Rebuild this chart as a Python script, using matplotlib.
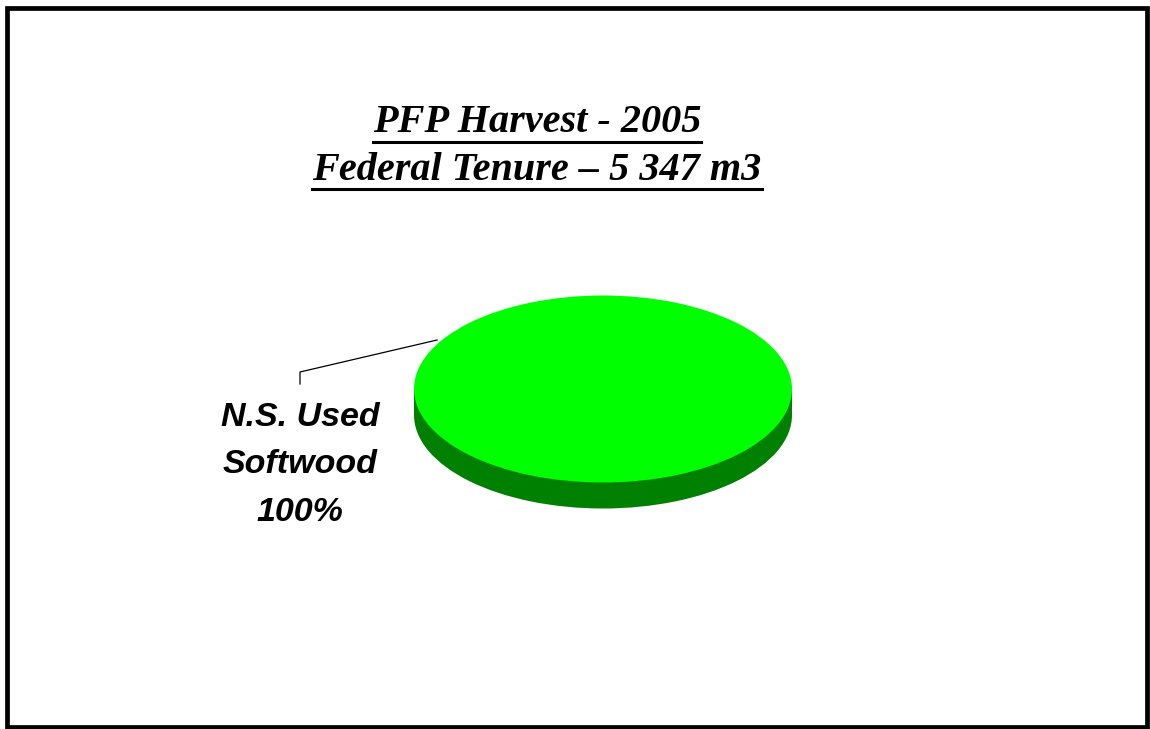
import matplotlib
matplotlib.use("Agg")
import matplotlib.pyplot as plt
from matplotlib.patches import Rectangle

# Data
labels = ["N.S. Used\nSoftwood"]
shares = [100]
title_lines = ["PFP Harvest - 2005", "Federal Tenure \u2013 5 347 m3"]

top_color = "#00FF00"
side_color = "#008000"

W, H = 1150, 729
fig = plt.figure(figsize=(W / 100, H / 100), dpi=100)

# pie geometry in pixels (center, radii, depth)
cx, cy = 603, H - 389
rx, ry = 189, 93.5
depth = 26 / ry

xlim = (-1.2, 1.2)
ylim = (-1.5, 1.2)
ax = fig.add_axes([(cx + xlim[0] * rx) / W, (cy + ylim[0] * ry) / H,
                   (xlim[1] - xlim[0]) * rx / W, (ylim[1] - ylim[0]) * ry / H])

# 3D look: dark pie underneath, side band, bright pie on top
ax.pie(shares, colors=[side_color], center=(0, -depth), startangle=90,
       wedgeprops=dict(linewidth=0))
ax.add_patch(Rectangle((-1, -depth), 2, depth, color=side_color, linewidth=0))
ax.pie(shares, colors=[top_color], center=(0, 0), startangle=90,
       wedgeprops=dict(linewidth=0))
ax.set_aspect("auto")
ax.set_xlim(*xlim)
ax.set_ylim(*ylim)
ax.axis("off")

# label with leader line
lx = (300 - cx) / rx
ax.plot([lx, lx, -0.878], [(389 - 384) / ry, (389 - 372) / ry, 0.524],
        color="black", lw=0.9, clip_on=False)
ax.text(lx, (389 - 465) / ry, f"{labels[0]}\n{shares[0]}%", ha="center", va="center",
        multialignment="center", fontsize=24.5, fontweight="bold", fontstyle="italic",
        family="Liberation Sans", linespacing=1.68, clip_on=False)

# title with underlines
title_y = [H - 123, H - 170]
fig.canvas.draw()
renderer = fig.canvas.get_renderer()
for line, ty in zip(title_lines, title_y):
    t = fig.text(537 / W, ty / H, line, ha="center", va="center", fontsize=29,
                 fontweight="bold", fontstyle="italic", family="Liberation Serif")
    bb = t.get_window_extent(renderer=renderer)
    uy = (ty - 18.5) / H
    fig.add_artist(plt.Line2D([bb.x0 / W, bb.x1 / W], [uy, uy], color="black",
                              lw=2.2, transform=fig.transFigure))

# outer frame
fig.add_artist(Rectangle((7 / W, 2 / H), 1140 / W, 719.5 / H, fill=False,
                         edgecolor="black", linewidth=3.4, transform=fig.transFigure))

fig.savefig("out.png", dpi=100)
